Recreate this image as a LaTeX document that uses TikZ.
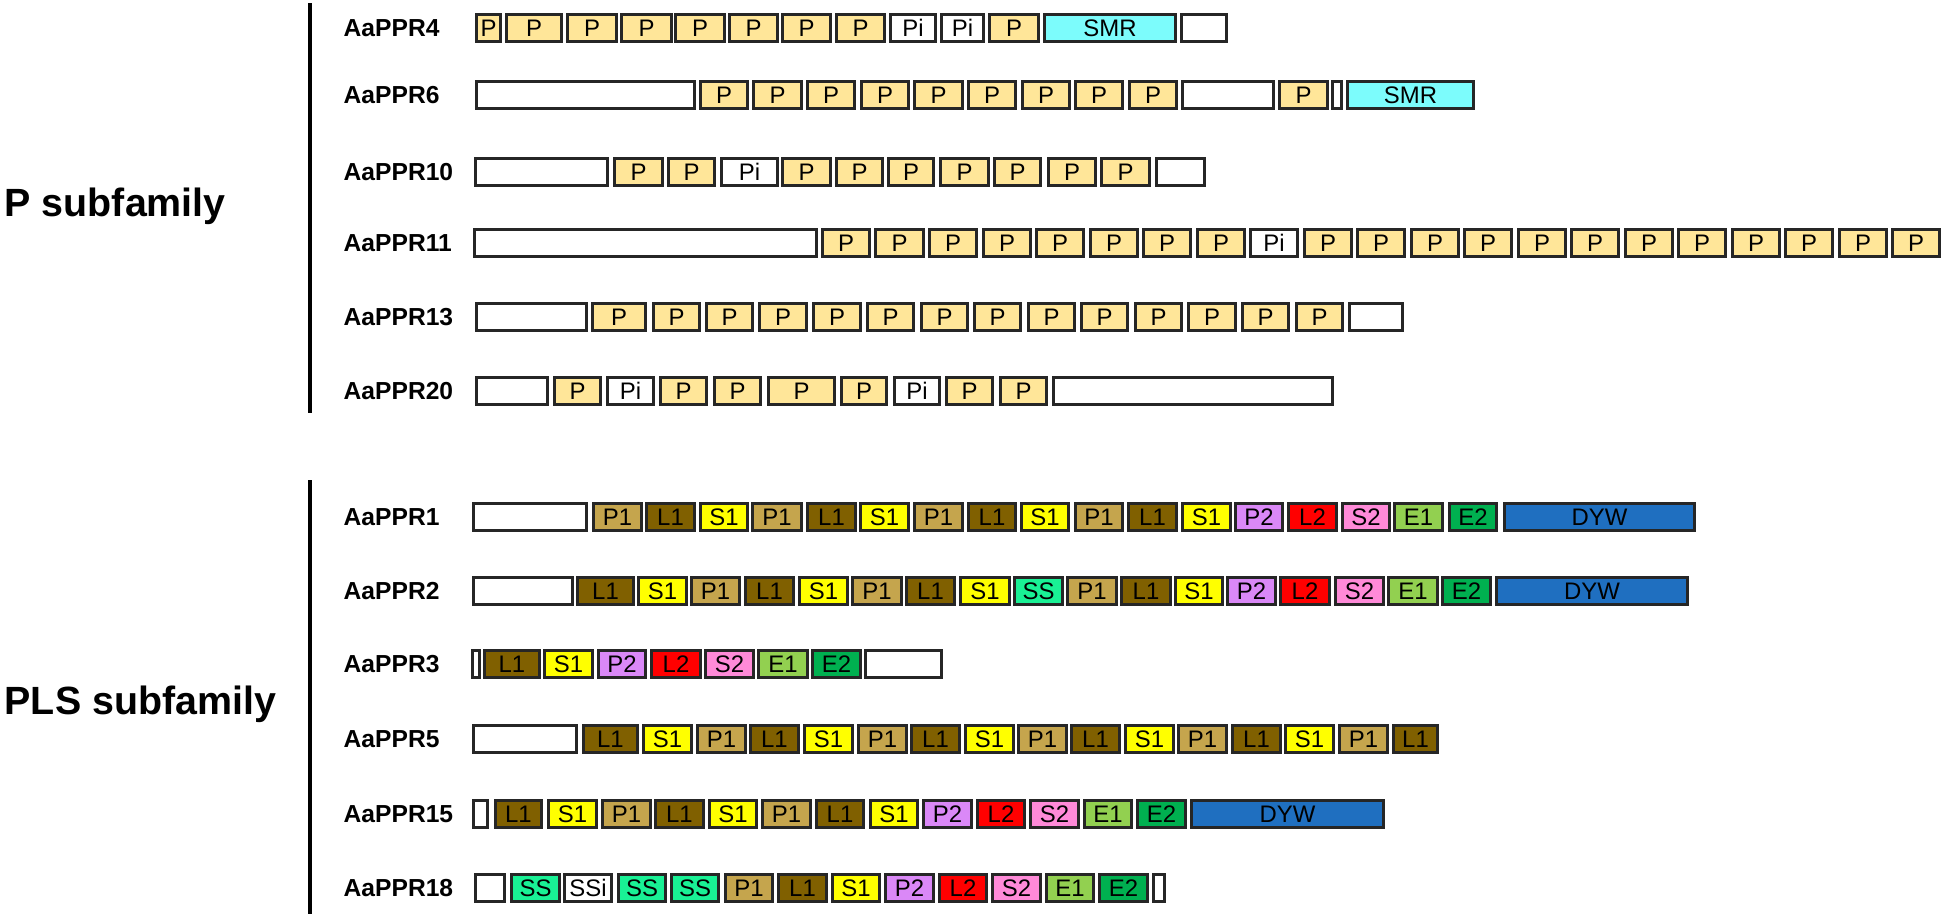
\documentclass[tikz,border=0pt]{standalone}
\usepackage{fontspec}
\setmainfont{Liberation Sans}
\usepackage{xcolor}
\usepackage{tikz}
\definecolor{ppP}{HTML}{FFE699}
\definecolor{ppSMR}{HTML}{7CFCFC}
\definecolor{ppPone}{HTML}{C5A54D}
\definecolor{ppLone}{HTML}{806000}
\definecolor{ppSone}{HTML}{FFFF00}
\definecolor{ppPtwo}{HTML}{DA88F7}
\definecolor{ppLtwo}{HTML}{FF0000}
\definecolor{ppStwo}{HTML}{FF8AD8}
\definecolor{ppEone}{HTML}{92D050}
\definecolor{ppEtwo}{HTML}{00B050}
\definecolor{ppDYW}{HTML}{1F6FC0}
\definecolor{ppSS}{HTML}{19F195}

\tikzset{
  dom/.style={draw=black!85,line width=0.85pt,minimum height=7.6pt,inner sep=0pt,
    font=\fontsize{6.8}{8}\selectfont},
  lab/.style={anchor=west,inner sep=0pt,font=\bfseries\fontsize{7}{8}\selectfont},
  sub/.style={anchor=base west,inner sep=0pt,font=\bfseries\fontsize{11.2}{13}\selectfont},
  bar/.style={line width=1.4pt}
}

% one protein: name, row y, list of start/end/colour/text
\newcommand{\pprrow}[3]{%
  \node[lab] (lab#1) at (343,#2) {AaPPR#1};
  \foreach \a/\b/\c/\t [count=\i] in {#3}
    \node[dom,fill=\c,minimum width={(\b-\a-3)*0.2845pt}] (r#1-\i) at ({(\a+\b)/2},#2) {\t};
}

\begin{document}
\begin{tikzpicture}[x=0.01cm,y=-0.01cm]
  \useasboundingbox (0,0) rectangle (1944,917);

  % subfamilies
  \node[sub] (subP) at (4,216) {P subfamily};
  \node[sub] (subPLS) at (4,714) {PLS subfamily};
  \draw[bar] (310,3) -- (310,413);
  \draw[bar] (310,480) -- (310,914);

  % P subfamily
  \pprrow{4}{28}{475/502/ppP/P,505/563/ppP/P,566/618/ppP/P,620/673/ppP/P,674/726/ppP/P,
    728/779/ppP/P,781/832/ppP/P,835/886/ppP/P,889/937/white/Pi,940/985/white/Pi,
    988/1040/ppP/P,1043/1177/ppSMR/SMR,1180/1228/white/{}}
  \pprrow{6}{95}{475/696/white/{},699/749/ppP/P,752/803/ppP/P,806/856/ppP/P,860/910/ppP/P,
    913/964/ppP/P,967/1017/ppP/P,1021/1071/ppP/P,1074/1124/ppP/P,1128/1178/ppP/P,
    1181/1275/white/{},1278/1329/ppP/P,1331/1343/white/{},1346/1475/ppSMR/SMR}
  \pprrow{10}{172}{474/609/white/{},613/664/ppP/P,667/716/ppP/P,720/779/white/Pi,
    781/832/ppP/P,835/884/ppP/P,887/935/ppP/P,939/990/ppP/P,993/1042/ppP/P,
    1047/1097/ppP/P,1100/1151/ppP/P,1155/1206/white/{}}
  \pprrow{11}{243}{473/818/white/{},821/871/ppP/P,874/925/ppP/P,928/978/ppP/P,
    982/1032/ppP/P,1035/1085/ppP/P,1089/1139/ppP/P,1142/1192/ppP/P,1196/1246/ppP/P,
    1249/1299/white/Pi,1303/1353/ppP/P,1356/1406/ppP/P,1410/1460/ppP/P,1463/1513/ppP/P,
    1517/1567/ppP/P,1570/1620/ppP/P,1624/1674/ppP/P,1677/1727/ppP/P,1731/1781/ppP/P,
    1784/1834/ppP/P,1838/1888/ppP/P,1891/1941/ppP/P}
  \pprrow{13}{317}{475/588/white/{},591/647/ppP/P,652/701/ppP/P,705/754/ppP/P,
    758/808/ppP/P,812/862/ppP/P,866/915/ppP/P,920/969/ppP/P,973/1022/ppP/P,
    1027/1076/ppP/P,1080/1129/ppP/P,1134/1183/ppP/P,1187/1237/ppP/P,1241/1290/ppP/P,
    1295/1344/ppP/P,1348/1404/white/{}}
  \pprrow{20}{391}{475/549/white/{},553/602/ppP/P,606/655/white/Pi,659/708/ppP/P,
    713/762/ppP/P,767/836/ppP/P,840/888/ppP/P,893/941/white/Pi,945/994/ppP/P,
    999/1048/ppP/P,1052/1334/white/{}}

  % PLS subfamily
  \pprrow{1}{517}{472/588/white/{},592/643/ppPone/P1,645/696/ppLone/L1,699/749/ppSone/S1,
    751/803/ppPone/P1,806/857/ppLone/L1,859/910/ppSone/S1,913/964/ppPone/P1,
    967/1017/ppLone/L1,1020/1070/ppSone/S1,1074/1124/ppPone/P1,1127/1178/ppLone/L1,
    1181/1232/ppSone/S1,1234/1284/ppPtwo/P2,1287/1338/ppLtwo/L2,1341/1391/ppStwo/S2,
    1393/1444/ppEone/E1,1448/1498/ppEtwo/E2,1503/1696/ppDYW/DYW}
  \pprrow{2}{591}{472/574/white/{},576/635/ppLone/L1,637/688/ppSone/S1,690/741/ppPone/P1,
    744/795/ppLone/L1,798/849/ppSone/S1,851/903/ppPone/P1,905/956/ppLone/L1,
    959/1011/ppSone/S1,1013/1064/ppSS/SS,1066/1118/ppPone/P1,1120/1172/ppLone/L1,
    1174/1224/ppSone/S1,1226/1277/ppPtwo/P2,1279/1331/ppLtwo/L2,1334/1385/ppStwo/S2,
    1387/1439/ppEone/E1,1441/1492/ppEtwo/E2,1495/1689/ppDYW/DYW}
  \pprrow{3}{664}{471/481/white/{},483/541/ppLone/L1,543/594/ppSone/S1,597/647/ppPtwo/P2,
    650/702/ppLtwo/L2,704/755/ppStwo/S2,757/809/ppEone/E1,811/862/ppEtwo/E2,
    864/943/white/{}}
  \pprrow{5}{739}{472/578/white/{},582/639/ppLone/L1,642/693/ppSone/S1,696/747/ppPone/P1,
    749/800/ppLone/L1,803/854/ppSone/S1,857/908/ppPone/P1,910/961/ppLone/L1,
    964/1015/ppSone/S1,1017/1068/ppPone/P1,1070/1121/ppLone/L1,1124/1175/ppSone/S1,
    1177/1228/ppPone/P1,1231/1282/ppLone/L1,1284/1335/ppSone/S1,1338/1389/ppPone/P1,
    1392/1439/ppLone/L1}
  \pprrow{15}{814}{472/489/white/{},494/543/ppLone/L1,547/598/ppSone/S1,601/652/ppPone/P1,
    654/705/ppLone/L1,708/758/ppSone/S1,761/812/ppPone/P1,815/865/ppLone/L1,
    869/919/ppSone/S1,922/973/ppPtwo/P2,976/1026/ppLtwo/L2,1029/1080/ppStwo/S2,
    1083/1133/ppEone/E1,1136/1187/ppEtwo/E2,1190/1385/ppDYW/DYW}
  \pprrow{18}{888}{474/506/white/{},510/561/ppSS/SS,563/613/white/SSi,617/667/ppSS/SS,
    670/720/ppSS/SS,724/774/ppPone/P1,777/828/ppLone/L1,831/881/ppSone/S1,
    884/935/ppPtwo/P2,938/988/ppLtwo/L2,991/1042/ppStwo/S2,1045/1095/ppEone/E1,
    1098/1149/ppEtwo/E2,1152/1166/white/{}}
\end{tikzpicture}
\end{document}
